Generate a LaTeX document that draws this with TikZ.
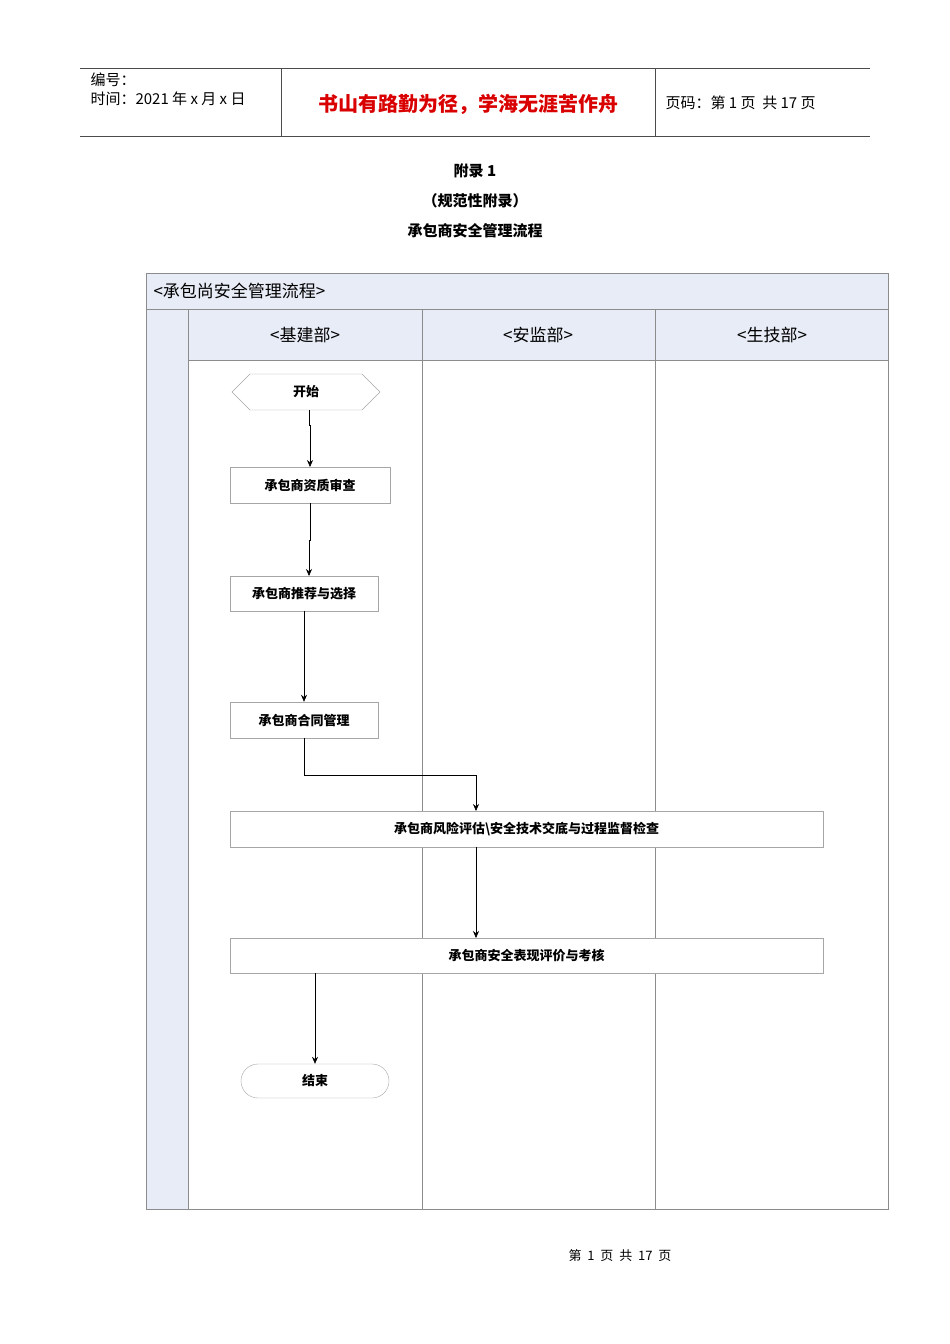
\documentclass[tikz,border=0pt]{standalone}
\usepackage{fontspec}
\setmainfont{Noto Sans CJK SC}
\usetikzlibrary{shapes.geometric,arrows.meta}
\definecolor{hdrc}{RGB}{232,236,246}
\begin{document}
\begin{tikzpicture}[x=1pt,y=-1pt,
  box/.style={draw=black!35,fill=white,inner sep=0pt,font=\fontsize{13}{15}\selectfont\bfseries},
  lane/.style={draw=black!45,line width=0.6pt},
  hdr/.style={fill=hdrc},
  arr/.style={-{Stealth[length=7pt,width=6pt]},line width=0.6pt}]
\useasboundingbox (0,0) rectangle (950,1344);
% header
\draw[black!70] (80,68) -- (870,68) (80,136) -- (870,136) (281,68) -- (281,136) (655,68) -- (655,136);
\node[anchor=west,font=\fontsize{15}{17}\selectfont] (h1) at (87,80) {编号：};
\node[anchor=west,font=\fontsize{15}{17}\selectfont] (h2) at (87,99) {时间：2021 年 x 月 x 日};
\node[font=\fontsize{20}{24}\selectfont\bfseries,text=red!85!black] (h3) at (468,104) {书山有路勤为径，学海无涯苦作舟};
\node[anchor=west,font=\fontsize{15}{17}\selectfont] (h4) at (662,103) {页码：第 1 页\ \ 共 17 页};
% titles
\node[font=\fontsize{15}{17}\selectfont\bfseries] (t1) at (475,171) {附录 1};
\node[font=\fontsize{15}{17}\selectfont\bfseries] (t2) at (475,201) {（规范性附录）};
\node[font=\fontsize{15}{17}\selectfont\bfseries] (t3) at (475,231) {承包商安全管理流程};
% swimlane
\fill[hdr] (146,273) rectangle (888,309);
\fill[hdr] (146,309) rectangle (188,1209);
\fill[hdr] (188,309) rectangle (888,360);
\draw[lane] (146,273) rectangle (888,1209);
\draw[lane] (146,309) -- (888,309) (188,309) -- (188,1209) (188,360) -- (888,360)
  (422,309) -- (422,1209) (655,309) -- (655,1209);
\node[anchor=west,font=\fontsize{17}{19}\selectfont] (sw) at (150,291) {<承包尚安全管理流程>};
\node[font=\fontsize{17}{19}\selectfont] (l1) at (305,335) {<基建部>};
\node[font=\fontsize{17}{19}\selectfont] (l2) at (538,335) {<安监部>};
\node[font=\fontsize{17}{19}\selectfont] (l3) at (772,335) {<生技部>};
% nodes
\draw[black!35,fill=white] (250,374) -- (362,374) -- (380,392) -- (362,410) -- (250,410) -- (232,392) -- cycle;
\node[box,draw=none,fill=none] (s) at (306,392) {开始};
\node[box,minimum width=160pt,minimum height=36pt] (b1) at (310,485) {承包商资质审查};
\node[box,minimum width=148pt,minimum height=35pt] (b2) at (304,593.5) {承包商推荐与选择};
\node[box,minimum width=148pt,minimum height=36pt] (b3) at (304,720) {承包商合同管理};
\node[box,minimum width=593pt,minimum height=36pt] (b4) at (526.5,829) {承包商风险评估\textbackslash 安全技术交底与过程监督检查};
\node[box,minimum width=593pt,minimum height=35pt] (b5) at (526.5,955.5) {承包商安全表现评价与考核};
\node[box,rounded corners=17pt,minimum width=148pt,minimum height=34pt] (e) at (315,1081) {结束};
\coordinate (c1) at (304,775);
% arrows
\draw[arr] (309,410) -- (309,425) -- (310,425) -- (310,467);
\draw[arr] (310,503) -- (310,540) -- (309,540) -- (309,576);
\draw[arr] (b2) -- (b3);
\draw[arr] (b3.south) -- (c1) -- (476,775) -- (476,811);
\draw[arr] (476,847) -- (476,938);
\draw[arr] (315,973) -- (e.north);
\node[font=\fontsize{13}{15}\selectfont] (ft) at (620,1256) {第\ \ 1\ \ 页\ \ 共\ \ 17\ \ 页};
\end{tikzpicture}
\end{document}
